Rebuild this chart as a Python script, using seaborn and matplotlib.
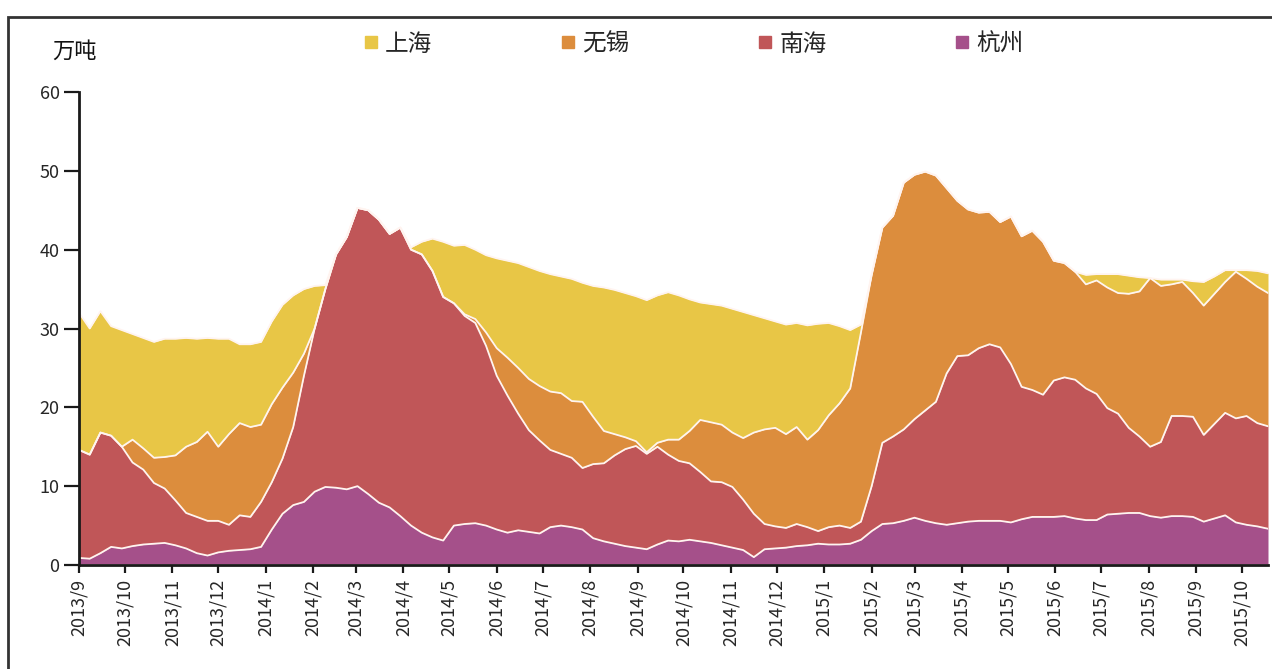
import numpy as np
import pandas as pd
import matplotlib
matplotlib.use("Agg")
import matplotlib.pyplot as plt
import matplotlib.dates as mdates
from matplotlib.lines import Line2D
from matplotlib.patches import Rectangle
import seaborn as sns

# ---------------- data (万吨, weekly) ----------------
start_date = "2013-09-01"
n_weeks = 112

hangzhou = [0.9, 0.8, 1.5, 2.3, 2.1, 2.4, 2.6, 2.7, 2.8, 2.5, 2.1, 1.5, 1.2, 1.6, 1.8, 1.9, 2.0, 2.3, 4.5, 6.5,
            7.6, 8.0, 9.3, 9.9, 9.8, 9.6, 10.0, 9.0, 7.9, 7.3, 6.2, 5.0, 4.1, 3.5, 3.1, 5.0, 5.2, 5.3, 5.0, 4.5,
            4.1, 4.4, 4.2, 4.0, 4.8, 5.0, 4.8, 4.5, 3.4, 3.0, 2.7, 2.4, 2.2, 2.0, 2.6, 3.1, 3.0, 3.2, 3.0, 2.8,
            2.5, 2.2, 1.9, 1.0, 2.0, 2.1, 2.2, 2.4, 2.5, 2.7, 2.6, 2.6, 2.7, 3.2, 4.3, 5.2, 5.3, 5.6, 6.0, 5.6,
            5.3, 5.1, 5.3, 5.5, 5.6, 5.6, 5.6, 5.4, 5.8, 6.1, 6.1, 6.1, 6.2, 5.9, 5.7, 5.7, 6.4, 6.5, 6.6, 6.6,
            6.2, 6.0, 6.2, 6.2, 6.1, 5.5, 5.9, 6.3, 5.4, 5.1, 4.9, 4.6]

nanhai = [13.7, 13.2, 15.3, 14.1, 12.9, 10.6, 9.5, 7.7, 6.9, 5.7, 4.5, 4.6, 4.4, 4.0, 3.3, 4.4, 4.1, 5.7, 6.0, 7.0,
          9.9, 16.0, 20.7, 25.1, 29.6, 32.0, 35.3, 36.0, 35.9, 34.7, 36.6, 35.0, 35.3, 33.8, 30.9, 28.2, 26.4, 25.4, 22.8, 19.5,
          17.4, 14.8, 12.9, 11.8, 9.8, 9.1, 8.8, 7.8, 9.4, 9.9, 11.2, 12.3, 12.9, 12.1, 12.4, 10.9, 10.2, 9.7, 8.8, 7.8,
          8.0, 7.7, 6.4, 5.5, 3.2, 2.8, 2.5, 2.8, 2.3, 1.6, 2.2, 2.4, 2.0, 2.3, 5.7, 10.3, 11.0, 11.6, 12.5, 14.0,
          15.4, 19.2, 21.2, 21.1, 21.9, 22.4, 22.0, 20.1, 16.8, 16.1, 15.5, 17.3, 17.6, 17.6, 16.7, 16.0, 13.5, 12.7, 10.8, 9.7,
          8.8, 9.6, 12.7, 12.7, 12.7, 11.0, 12.0, 13.0, 13.2, 13.8, 13.1, 13.0]

wuxi = [0, 0, 0, 0, 0, 2.9, 2.7, 3.2, 4.0, 5.7, 8.4, 9.5, 11.3, 9.4, 11.5, 11.7, 11.4, 9.8, 9.9, 9.0,
        6.9, 2.8, 0, 0, 0, 0, 0, 0, 0, 0, 0, 0, 0, 0, 0, 0, 0.2, 0.5, 1.7, 3.5,
        4.8, 5.8, 6.5, 6.9, 7.4, 7.7, 7.2, 8.4, 6.0, 4.1, 2.7, 1.5, 0.6, 0.2, 0.5, 1.9, 2.7, 4.1, 6.6, 7.5,
        7.3, 6.9, 7.8, 10.3, 12.0, 12.5, 11.9, 12.3, 11.1, 12.8, 14.2, 15.5, 17.7, 24.0, 26.8, 27.3, 28.0, 31.3, 31.0, 30.3,
        28.7, 23.5, 19.7, 18.5, 17.2, 16.8, 15.9, 18.7, 19.1, 20.2, 19.4, 15.2, 14.5, 13.7, 13.2, 14.4, 15.3, 15.3, 17.0, 18.4,
        21.4, 19.8, 16.7, 17.0, 15.7, 16.4, 16.5, 16.6, 18.6, 17.4, 17.3, 16.9]

shanghai = [17.4, 16.0, 15.4, 13.9, 14.8, 13.4, 14.0, 14.7, 15.0, 14.8, 13.8, 13.1, 11.9, 13.7, 12.1, 10.0, 10.5, 10.5, 10.5, 10.5,
            9.8, 8.2, 5.4, 0.5, 0, 0, 0, 0, 0, 0, 0, 0.3, 1.6, 4.1, 7.0, 7.3, 8.8, 8.8, 9.8, 11.4,
            12.3, 13.3, 14.2, 14.6, 14.9, 14.8, 15.5, 15.1, 16.6, 18.2, 18.3, 18.3, 18.4, 19.3, 18.7, 18.7, 18.3, 16.7, 14.9, 15.0,
            15.1, 15.7, 16.0, 14.9, 14.1, 13.5, 13.9, 13.2, 14.5, 13.5, 11.7, 9.8, 7.4, 1.0, 0, 0, 0, 0, 0, 0,
            0, 0, 0, 0, 0, 0, 0, 0, 0, 0, 0, 0, 0, 0, 1.2, 0.8, 1.7, 2.4, 2.3, 1.8,
            0.0, 0.8, 0.6, 0.3, 1.5, 3.0, 2.2, 1.5, 0.2, 1.1, 2.0, 2.5]

series_names = ["上海", "无锡", "南海", "杭州"]
series_colors = ["#E8C646", "#DC8D3D", "#C05658", "#A5508A"]

month_ticks = pd.date_range("2013-09-01", "2015-10-01", freq="MS")
month_labels = [f"{d.year}/{d.month}" for d in month_ticks]
x_end = "2015-10-18"

# ---------------- figure ----------------
sns.set_theme(style="ticks")
plt.rcParams["font.family"] = ["Noto Sans CJK SC", "DejaVu Sans"]
plt.rcParams["axes.unicode_minus"] = False

W, H = 1272, 669
fig = plt.figure(figsize=(W / 100, H / 100), dpi=100)
ax = fig.add_axes([79 / W, 1 - 565 / H, (1268 - 79) / W, (565 - 92) / H])

dates = pd.date_range(start_date, periods=n_weeks, freq="7D")
stack_bottom_up = [hangzhou, nanhai, wuxi, shanghai]
colors_bottom_up = [series_colors[3], series_colors[2], series_colors[1], series_colors[0]]
ax.stackplot(dates, *[np.array(s) for s in stack_bottom_up], colors=colors_bottom_up,
             linewidth=0, zorder=2)

# white boundary lines between the layers
cum = np.cumsum(np.array(stack_bottom_up), axis=0)
long = pd.DataFrame({
    "date": np.tile(dates, 4),
    "value": cum.ravel(),
    "layer": np.repeat(["杭州", "南海", "无锡", "上海"], n_weeks),
})
sns.lineplot(data=long, x="date", y="value", hue="layer",
             palette={k: "#FFF4F0" for k in ["杭州", "南海", "无锡", "上海"]},
             linewidth=1.3, legend=False, ax=ax, zorder=3)
ax.plot(dates, np.zeros(n_weeks), color="#F2C8E0", lw=1.2, zorder=3)

ax.set_xlim(pd.Timestamp(start_date), pd.Timestamp(x_end))
ax.set_ylim(0, 60)
ax.set_yticks(range(0, 61, 10))
ax.set_yticklabels([str(v) for v in range(0, 61, 10)], fontsize=13)
ax.set_xticks(month_ticks)
ax.set_xticklabels(month_labels, rotation=90, fontsize=13, ha="center", va="top")
ax.set_xlabel("")
ax.set_ylabel("")

for s in ["top", "right"]:
    ax.spines[s].set_visible(False)
for s in ["left", "bottom"]:
    ax.spines[s].set_linewidth(2)
    ax.spines[s].set_color("#1a1a1a")
    ax.spines[s].set_zorder(5)
ax.tick_params(axis="y", direction="out", length=11, width=1.6, color="#1a1a1a", pad=3)
ax.tick_params(axis="x", direction="out", length=6, width=1.6, color="#1a1a1a", pad=4)
ax.grid(False)

# unit label
fig.text(52 / W, 1 - 51 / H, "万吨", fontsize=16, va="center", ha="left", color="#111")

# legend
handles = [Line2D([], [], marker="s", linestyle="", color=c, markersize=8) for c in series_colors]
fig.legend(handles, series_names, loc="center", bbox_to_anchor=(693 / W, 1 - 44 / H),
           ncol=4, frameon=False, fontsize=17, columnspacing=5.4, handlelength=0.7,
           handletextpad=0.25, borderaxespad=0)

# outer frame
fig.add_artist(Rectangle((8 / W, -0.2), 1.5, (1 - 17 / H) + 0.2, transform=fig.transFigure,
                         fill=False, lw=2, ec="#333333"))

fig.savefig("out.png", dpi=100)
